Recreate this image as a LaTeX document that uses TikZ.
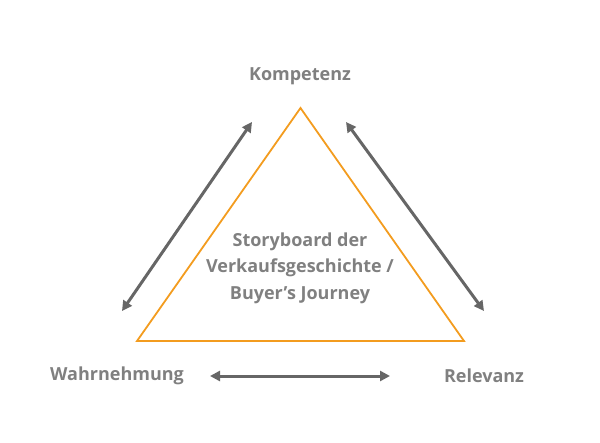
\documentclass[tikz,border=0pt]{standalone}
\usepackage{fontspec}
\setmainfont{Open Sans}
\usetikzlibrary{arrows.meta}
\definecolor{txtgray}{HTML}{808080}
\definecolor{arrgray}{HTML}{666666}
\definecolor{triorange}{HTML}{F39C1F}
\tikzset{
  lbl/.style={font=\bfseries\fontsize{18}{26.5}\selectfont, text=txtgray, inner sep=0pt, align=center},
  dblarrow/.style={draw=arrgray, line width=3pt, {Triangle[length=10pt,width=10pt]}-{Triangle[length=10pt,width=10pt]}},
  tri/.style={draw=triorange, line width=1.8pt, line join=miter}
}
\begin{document}
\begin{tikzpicture}[x=1pt,y=-1pt]
\useasboundingbox (0,0) rectangle (600,442);
\coordinate (A) at (300.5,108);
\coordinate (B) at (137,341);
\coordinate (C) at (464,341);
\draw[tri] (A) -- (B) -- (C) -- cycle;
\node[lbl] (komp) at (300,76) {Kompetenz};
\node[lbl] (wahr) at (117,376) {Wahrnehmung};
\node[lbl] (rel) at (484,376) {Relevanz};
\node[lbl] (center) at (300,268) {Storyboard der\\Verkaufsgeschichte /\\Buyer’s Journey};
\coordinate (l1) at (122,311);
\coordinate (l2) at (252,122);
\coordinate (r1) at (346,122);
\coordinate (r2) at (484,311);
\coordinate (b1) at (210,376);
\coordinate (b2) at (390,376);
\draw[dblarrow] (l1) -- (l2);
\draw[dblarrow] (r1) -- (r2);
\draw[dblarrow] (b1) -- (b2);
\end{tikzpicture}
\end{document}
